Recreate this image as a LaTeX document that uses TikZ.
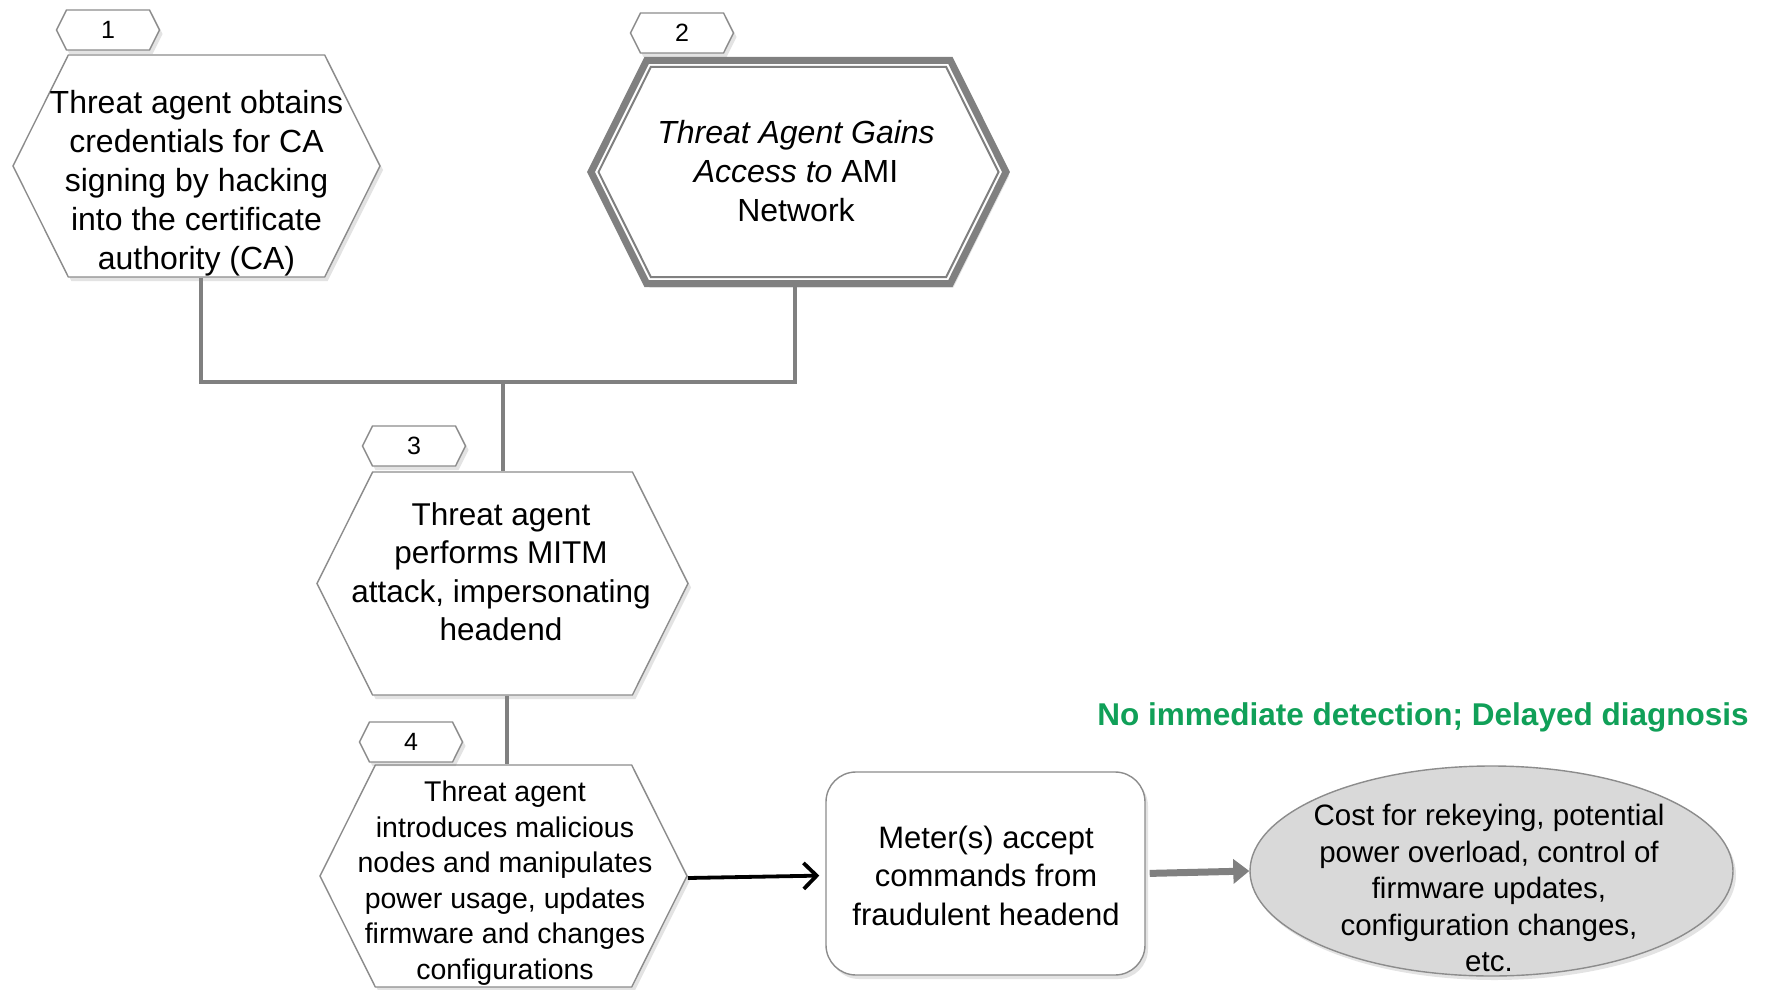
\documentclass[tikz,border=0pt]{standalone}
\usepackage{fontspec}
\setmainfont{Liberation Sans}
\usetikzlibrary{shapes.symbols,shapes.geometric,arrows.meta,shadows}
\definecolor{edgegray}{RGB}{140,140,140}
\definecolor{linegray}{RGB}{128,128,128}
\definecolor{ovalfill}{RGB}{217,217,217}
\definecolor{notegreen}{RGB}{16,160,88}
\begin{document}
\begin{tikzpicture}[x=1pt,y=-1pt,
  softshadow/.style={drop shadow={opacity=0.22,shadow xshift=3pt,shadow yshift=-4pt}},
  hexbox/.style={signal,signal to=east and west,signal pointer angle=127,
    draw=edgegray,line width=1.4pt,fill=white,inner sep=0pt,softshadow},
  tagbox/.style={hexbox,minimum width=103pt,minimum height=40pt,
    font=\fontsize{25}{30}\selectfont},
  txt/.style={align=center,inner sep=0pt},
  conn/.style={draw=linegray,line width=4pt},
]
\useasboundingbox[fill=white] (0,0) rectangle (1770,990);

% step 1
\node[hexbox,minimum width=367pt,minimum height=222pt] (h1) at (196.5,166) {};
\node[txt,font=\fontsize{32}{39}\selectfont] (t1) at (196.5,183)
  {Threat agent obtains\\credentials for CA\\signing by hacking\\into the certificate\\authority (CA)};
\node[tagbox] (n1) at (108,30) {1};

% step 2: double-bordered hexagon
\node[hexbox,draw=linegray,line width=7pt,minimum width=415pt,minimum height=223pt] (h2) at (798.5,172) {};
\node[signal,signal to=east and west,signal pointer angle=127,draw=linegray,line width=2pt,
  inner sep=0pt,minimum width=400pt,minimum height=210pt] (h2in) at (798.5,172) {};
\node[txt,font=\fontsize{32}{39}\selectfont] (t2) at (796,171)
  {\itshape Threat Agent Gains\\{\itshape Access to} AMI\\Network};
\node[tagbox] (n2) at (682,33) {2};

% step 3
\node[hexbox,minimum width=371pt,minimum height=223pt] (h3) at (502.5,583.5) {};
\node[txt,font=\fontsize{31.5}{38.5}\selectfont] (t3) at (501,571.5)
  {Threat agent\\performs MITM\\attack, impersonating\\headend};
\node[tagbox] (n3) at (414,446) {3};

% step 4
\node[hexbox,minimum width=367pt,minimum height=222pt] (h4) at (503.5,876) {};
\node[txt,font=\fontsize{28.5}{35.5}\selectfont] (t4) at (505,883)
  {Threat agent\\introduces malicious\\nodes and manipulates\\power usage, updates\\firmware and changes\\configurations};
\node[tagbox] (n4) at (411,742) {4};

% outcome boxes
\node[draw=edgegray,line width=1.4pt,fill=white,rounded corners=30pt,softshadow,
  minimum width=319pt,minimum height=203pt] (meter) at (985.5,873.5) {};
\node[txt,font=\fontsize{31}{38.5}\selectfont] (tm) at (986,875.5)
  {Meter(s) accept\\commands from\\fraudulent headend};

\node[ellipse,draw=edgegray,line width=1.4pt,fill=ovalfill,softshadow,
  minimum width=483pt,minimum height=210pt,inner sep=0pt] (impact) at (1491.5,871) {};
\node[txt,font=\fontsize{29.5}{36.5}\selectfont] (ti) at (1489,888)
  {Cost for rekeying, potential\\power overload, control of\\firmware updates,\\configuration changes,\\etc.};

\node[txt,text=notegreen,font=\fontsize{31.5}{36}\selectfont\bfseries] (note) at (1423,717)
  {No immediate detection; Delayed diagnosis};

% connectors
\coordinate (join) at (502.5,382);
\draw[conn] ([xshift=4.5pt]h1.south) |- (join);
\draw[conn] ([xshift=-3.5pt]h2.south) |- (join);
\draw[conn] (join) -- (h3.north);
\draw[conn] ([xshift=4pt]h3.south) -- ([xshift=3pt]h4.north);
\draw[black,line width=3.8pt,-{Straight Barb[length=13pt,width=26pt,line width=3.8pt]},shorten >=6pt]
  ([yshift=-2pt]h4.east) -- ([yshift=-2pt]meter.west);
\draw[linegray,line width=7pt,-{Triangle[length=16pt,width=24pt]},shorten <=4pt]
  (meter.east) -- (impact.west);
\end{tikzpicture}
\end{document}
